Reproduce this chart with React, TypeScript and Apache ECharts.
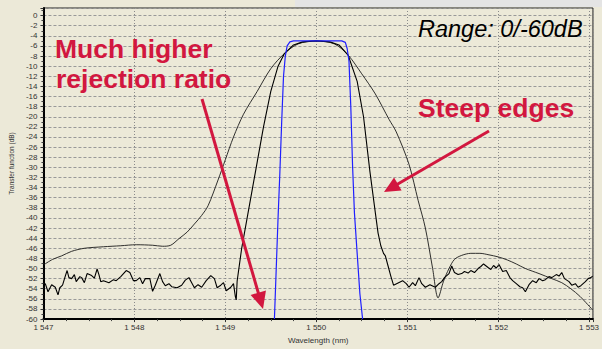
import React, { useEffect, useRef } from "react";
import * as echarts from "echarts";

// Wavelength (nm) / transfer function (dB)
const xTicks = [1547, 1548, 1549, 1550, 1551, 1552, 1553];
const yMin = -60;
const yMax = 1.5;

// Flat-top filter (blue)
const blueCurve: [number, number][] = [
  [1549.54, -60], [1549.56, -50], [1549.58, -40], [1549.6, -31], [1549.62, -21],
  [1549.64, -12], [1549.66, -8], [1549.68, -6], [1549.71, -5.2], [1549.75, -5.0],
  [1550.0, -5.0], [1550.28, -5.0], [1550.32, -5.3], [1550.34, -6.5], [1550.36, -9],
  [1550.38, -18], [1550.4, -30], [1550.42, -39], [1550.45, -47], [1550.48, -55],
  [1550.51, -60],
];

// Steep-edged filter (black, noisy floor)
const steepCurve: [number, number][] = [
  [1547.0, -53.3], [1547.02, -53.0], [1547.05, -54.6], [1547.09, -53.2], [1547.13, -53.7],
  [1547.16, -55.2], [1547.18, -53.8], [1547.21, -53.3], [1547.24, -51.5], [1547.26, -50.4],
  [1547.28, -51.8], [1547.31, -52.0], [1547.34, -51.2], [1547.36, -52.6], [1547.4, -51.6],
  [1547.42, -51.8], [1547.45, -52.8], [1547.48, -51.0], [1547.53, -51.4], [1547.56, -51.9],
  [1547.59, -50.1], [1547.61, -51.2], [1547.63, -52.6], [1547.66, -52.4], [1547.72, -52.8],
  [1547.77, -52.2], [1547.8, -52.4], [1547.85, -51.6], [1547.88, -51.0], [1547.91, -50.4],
  [1547.95, -50.8], [1547.99, -52.4], [1548.02, -52.4], [1548.06, -51.8], [1548.09, -53.0],
  [1548.12, -52.0], [1548.17, -52.0], [1548.2, -54.5], [1548.23, -53.3], [1548.28, -51.0],
  [1548.31, -52.6], [1548.34, -53.4], [1548.38, -53.0], [1548.41, -53.6], [1548.47, -53.8],
  [1548.52, -53.3], [1548.56, -52.3], [1548.6, -51.8], [1548.63, -52.8], [1548.66, -53.8],
  [1548.7, -53.2], [1548.74, -53.7], [1548.79, -52.4], [1548.84, -51.4], [1548.88, -52.0],
  [1548.91, -53.8], [1548.95, -53.3], [1548.98, -52.8], [1549.01, -54.4], [1549.06, -53.7],
  [1549.09, -53.0], [1549.11, -55.5], [1549.12, -56.2], [1549.13, -52.5],
  [1549.18, -46], [1549.25, -39], [1549.3, -34], [1549.35, -29], [1549.42, -22],
  [1549.5, -15], [1549.58, -10], [1549.65, -7.5], [1549.75, -5.8], [1549.85, -5.2],
  [1550.0, -5.0], [1550.15, -5.2], [1550.25, -5.8], [1550.35, -7.8], [1550.45, -13],
  [1550.52, -20], [1550.59, -30.8], [1550.65, -39], [1550.68, -43], [1550.71, -45.5],
  [1550.74, -47], [1550.76, -47.5], [1550.79, -49.5], [1550.82, -51.5], [1550.85, -53.3],
  [1550.95, -52.4], [1550.99, -53.0], [1551.02, -53.7], [1551.06, -52.8], [1551.09, -53.4],
  [1551.13, -51.8], [1551.16, -53.0], [1551.2, -53.7], [1551.25, -53.2], [1551.31, -53.7],
  [1551.35, -53.0], [1551.38, -52.6], [1551.41, -51.8], [1551.46, -51.0], [1551.49, -49.5],
  [1551.52, -50.8], [1551.56, -51.2], [1551.6, -51.0], [1551.63, -50.6], [1551.67, -50.9],
  [1551.7, -50.4], [1551.74, -50.8], [1551.78, -50.0], [1551.81, -49.6], [1551.84, -49.1],
  [1551.89, -49.8], [1551.92, -50.2], [1551.95, -49.4], [1551.98, -49.9], [1552.01, -49.2],
  [1552.05, -50.6], [1552.09, -50.4], [1552.13, -51.8], [1552.16, -52.4], [1552.2, -53.0],
  [1552.24, -53.6], [1552.27, -53.8], [1552.3, -54.6], [1552.34, -53.2], [1552.38, -52.4],
  [1552.42, -52.8], [1552.45, -52.0], [1552.49, -52.4], [1552.52, -52.2], [1552.56, -51.6],
  [1552.59, -51.8], [1552.64, -51.2], [1552.67, -51.5], [1552.7, -50.8], [1552.73, -52.0],
  [1552.78, -52.6], [1552.81, -53.3], [1552.85, -53.0], [1552.88, -53.7], [1552.91, -53.4],
  [1552.96, -52.6], [1552.99, -52.0], [1553.02, -51.8], [1553.04, -51.5],
];

// Broad filter (thin black)
const broadCurve: [number, number][] = [
  [1547.0, -49.3], [1547.1, -48.2], [1547.2, -47.5], [1547.31, -46.6], [1547.45, -46.0],
  [1547.66, -45.7], [1547.85, -45.5], [1548.02, -45.3], [1548.2, -45.4], [1548.31, -45.6],
  [1548.4, -45.4], [1548.49, -44.1], [1548.58, -42.8], [1548.66, -41.2], [1548.74, -39.5],
  [1548.81, -37.6], [1548.92, -32.5], [1549.0, -28.5], [1549.09, -24.0], [1549.2, -19.5],
  [1549.35, -15.0], [1549.5, -10.5], [1549.65, -7.5], [1549.8, -5.6], [1550.0, -5.0],
  [1550.2, -5.6], [1550.35, -7.8], [1550.5, -11.5], [1550.65, -15.5], [1550.8, -20.5],
  [1550.88, -23.0], [1551.02, -29.4], [1551.12, -36.5], [1551.2, -42.0], [1551.28, -50.0],
  [1551.34, -55.8], [1551.4, -52.5], [1551.46, -50.0], [1551.52, -48.2], [1551.6, -47.4],
  [1551.7, -47.0], [1551.8, -47.0], [1551.9, -47.3], [1552.0, -47.7], [1552.1, -48.3],
  [1552.2, -49.1], [1552.3, -50.0], [1552.45, -51.0], [1552.59, -52.0], [1552.7, -52.8],
  [1552.8, -54.0], [1552.9, -55.5], [1553.04, -58.2],
];

const annotationLines = ["Much higher", "rejection ratio"];
const edgeLabel = "Steep edges";
const rangeLabel = "Range: 0/-60dB";

const RED = "#D2173F";

function arrow(x1: number, y1: number, x2: number, y2: number, len: number, half: number) {
  const dx = x2 - x1;
  const dy = y2 - y1;
  const d = Math.sqrt(dx * dx + dy * dy);
  const ux = dx / d;
  const uy = dy / d;
  const bx = x2 - ux * len;
  const by = y2 - uy * len;
  return [
    {
      type: "line",
      shape: { x1, y1, x2: bx + ux * 2, y2: by + uy * 2 },
      style: { stroke: RED, lineWidth: 3 },
      z: 100,
    },
    {
      type: "polygon",
      shape: {
        points: [
          [x2, y2],
          [bx - uy * half, by + ux * half],
          [bx + uy * half, by - ux * half],
        ],
      },
      style: { fill: RED },
      z: 100,
    },
  ];
}

export default function App() {
  const ref = useRef<HTMLDivElement>(null);
  useEffect(() => {
    if (!ref.current) return;
    const chart = echarts.init(ref.current, null, { renderer: "svg" });
    const font = "Liberation Sans, Arial, sans-serif";
    chart.setOption({
      animation: false,
      backgroundColor: "#ECE9D8",
      grid: {
        left: 38,
        right: 0,
        top: 8,
        bottom: 19,
        show: true,
        borderColor: "#222",
        borderWidth: 1,
        backgroundColor: "transparent",
      },
      xAxis: {
        type: "value",
        min: xTicks[0],
        max: 1553.043,
        interval: 1,
        name: "Wavelength (nm)",
        nameLocation: "middle",
        nameGap: 13,
        nameTextStyle: { fontSize: 8, color: "#333", fontFamily: font },
        axisLine: { show: true, onZero: false, lineStyle: { color: "#000", width: 2 } },
        axisTick: { show: true, length: 3, lineStyle: { color: "#333" } },
        minorTick: { show: true, splitNumber: 4, length: 2, lineStyle: { color: "#444" } },
        splitLine: { show: true, lineStyle: { color: "#8a8a8a", type: [1, 2], width: 1 } },
        axisLabel: {
          fontSize: 8,
          color: "#333",
          fontFamily: font,
          margin: 4,
          showMaxLabel: false,
          formatter: (v: number) => {
            const s = String(Math.round(v));
            return s.slice(0, 1) + " " + s.slice(1);
          },
        },
      },
      yAxis: {
        type: "value",
        min: yMin,
        max: yMax,
        interval: 2,
        name: "Transfer function (dB)",
        nameLocation: "middle",
        nameGap: 27,
        nameTextStyle: { fontSize: 6.5, color: "#333", fontFamily: font },
        axisLine: { show: true, onZero: false, lineStyle: { color: "#000", width: 2 } },
        axisTick: { show: true, length: 3, lineStyle: { color: "#333" } },
        minorTick: { show: true, splitNumber: 2, length: 2, lineStyle: { color: "#444" } },
        splitLine: { show: true, lineStyle: { color: "#999", type: [3, 2], width: 1 } },
        axisLabel: {
          fontSize: 8,
          color: "#333",
          fontFamily: font,
          margin: 6,
          showMaxLabel: false,
        },
      },
      series: [
        {
          type: "line",
          data: broadCurve,
          showSymbol: false,
          smooth: 0.3,
          lineStyle: { color: "#1a1a1a", width: 0.9 },
          z: 3,
        },
        {
          type: "line",
          data: steepCurve,
          showSymbol: false,
          lineStyle: { color: "#000", width: 1.1 },
          z: 4,
        },
        {
          type: "line",
          data: blueCurve,
          showSymbol: false,
          lineStyle: { color: "#1f1fff", width: 1.2 },
          z: 5,
        },
      ],
      graphic: [
        { type: "rect", shape: { x: 295, y: 0, width: 307, height: 7 }, style: { fill: "#e4e4e4" }, z: 50 },
        {
          type: "text",
          x: 55,
          y: 49,
          style: { text: annotationLines[0], fill: RED, font: "bold 26.5px " + font, verticalAlign: "middle" },
          z: 100,
        },
        {
          type: "text",
          x: 56,
          y: 79,
          style: { text: annotationLines[1], fill: RED, font: "bold 26.5px " + font, verticalAlign: "middle" },
          z: 100,
        },
        {
          type: "text",
          x: 418,
          y: 108,
          style: { text: edgeLabel, fill: RED, font: "bold 26.5px " + font, verticalAlign: "middle" },
          z: 100,
        },
        {
          type: "text",
          x: 418,
          y: 29,
          style: { text: rangeLabel, fill: "#000", font: "italic 23.5px " + font, verticalAlign: "middle" },
          z: 100,
        },
        ...arrow(202, 99, 263, 309, 17, 8),
        ...arrow(489, 131, 384, 192, 16, 7.5),
      ],
    });
    return () => chart.dispose();
  }, []);
  return (
    <div
      ref={ref}
      style={{ position: "fixed", left: 0, top: 0, width: 602, height: 349 }}
    />
  );
}
